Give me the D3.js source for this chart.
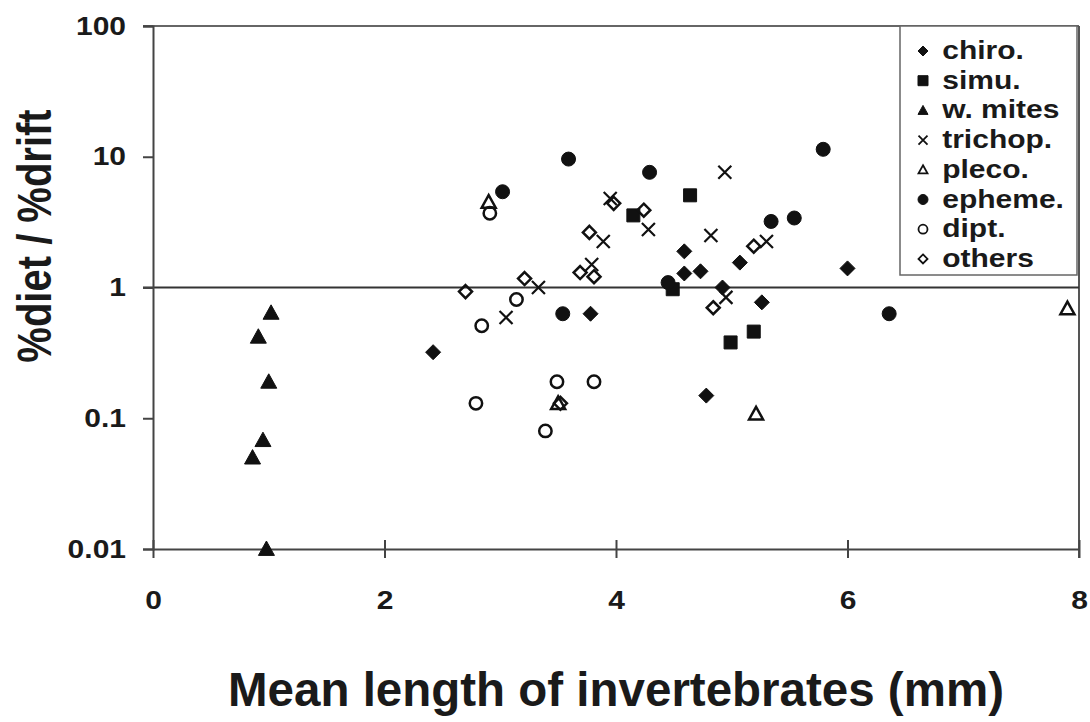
<!DOCTYPE html>
<html>
<head>
<meta charset="utf-8">
<script src="https://cdn.jsdelivr.net/npm/d3@7"></script>
<style>
  body { margin: 0; background: #fff; }
  text { font-family: "Liberation Sans", Arial, sans-serif; font-weight: bold; fill: #1a1a1a; }
</style>
</head>
<body>
<svg id="chart" width="1090" height="722"></svg>
<script>
// values: [mean length (mm), %diet/%drift]
const chiro = [[2.42, 0.32], [3.78, 0.63], [4.59, 1.89], [4.59, 1.28], [4.73, 1.33], [5.07, 1.55],
  [6.0, 1.4], [4.92, 1.0], [5.26, 0.77], [4.78, 0.149]]
const simu = [[4.15, 3.56], [4.64, 5.07], [4.49, 0.97], [5.19, 0.46], [4.99, 0.38]]
const wMites = [[1.02, 0.64], [0.91, 0.42], [1.0, 0.19], [0.95, 0.068], [0.86, 0.05], [0.98, 0.01]]
const trichop = [[3.95, 4.8], [4.28, 2.78], [3.89, 2.25], [4.82, 2.5], [4.94, 7.6], [5.3, 2.25],
  [3.79, 1.5], [3.33, 1.0], [3.05, 0.59], [4.95, 0.84]]
const pleco = [[2.9, 4.5], [3.5, 0.13], [5.21, 0.108], [7.9, 0.69]]
const epheme = [[3.02, 5.4], [3.59, 9.6], [4.29, 7.6], [5.79, 11.4], [5.34, 3.2], [5.54, 3.4],
  [4.45, 1.09], [3.54, 0.63], [6.36, 0.63]]
const dipt = [[2.91, 3.7], [2.79, 0.13], [2.84, 0.51], [3.14, 0.81], [3.49, 0.19], [3.81, 0.19], [3.39, 0.08]]
const others = [[3.98, 4.4], [4.24, 3.9], [3.77, 2.64], [5.19, 2.07], [3.69, 1.3], [3.81, 1.21],
  [3.21, 1.17], [2.7, 0.93], [4.84, 0.7], [3.52, 0.13]]

const xTicks = [0, 2, 4, 6, 8]
const yTicks = [0.01, 0.1, 1, 10, 100]

const series = [
  { name: "chiro.", data: chiro, shape: "diamond", filled: true },
  { name: "simu.", data: simu, shape: "square", filled: true },
  { name: "w. mites", data: wMites, shape: "triangle", filled: true },
  { name: "trichop.", data: trichop, shape: "cross", filled: false },
  { name: "pleco.", data: pleco, shape: "triangle", filled: false },
  { name: "epheme.", data: epheme, shape: "circle", filled: true },
  { name: "dipt.", data: dipt, shape: "circle", filled: false },
  { name: "others", data: others, shape: "diamond", filled: false }
]

const ink = "#111"
const lineCol = "#444"

const svg = d3.select("#chart")
const x = d3.scaleLinear().domain([0, 8]).range([153, 1079])
const y = d3.scaleLog().domain([0.01, 100]).range([549, 26])

// marker outlines, s = half size
const shapePath = (shape, s) => {
  if (shape === "diamond") return `M0,${-s}L${s},0L0,${s}L${-s},0Z`
  if (shape === "square") return `M${-s},${-s}H${s}V${s}H${-s}Z`
  if (shape === "triangle") return `M0,${-s}L${s},${s * 0.8}L${-s},${s * 0.8}Z`
  if (shape === "cross") return `M${-s},${-s}L${s},${s}M${-s},${s}L${s},${-s}`
  return d3.arc()({ innerRadius: 0, outerRadius: s, startAngle: 0, endAngle: 2 * Math.PI })
}
const plotSize = { diamond: 7.5, square: 6.5, triangle: 8, cross: 6.5, circle: 7 }
const openSize = { diamond: 6.5, triangle: 7, circle: 6.2, cross: 6.5 }

// frame: top and right border, value-1 line
svg.append("line").attr("x1", 143).attr("x2", 1079).attr("y1", y(100)).attr("y2", y(100))
  .attr("stroke", "#666").attr("stroke-width", 2)
svg.append("line").attr("x1", 1079).attr("x2", 1079).attr("y1", y(100)).attr("y2", 558)
  .attr("stroke", "#555").attr("stroke-width", 2)
svg.append("line").attr("x1", 143).attr("x2", 1079).attr("y1", y(1)).attr("y2", y(1))
  .attr("stroke", "#333").attr("stroke-width", 2)

// axes (labels are drawn a bit wide, like the original)
const yAxis = svg.append("g").attr("transform", "translate(153,0)")
  .call(d3.axisLeft(y).tickValues(yTicks).tickFormat(d3.format("~g")).tickSize(10))
yAxis.selectAll("path, line").attr("stroke", lineCol).attr("stroke-width", 2)
yAxis.selectAll("text").attr("x", -22.5).attr("transform", "scale(1.2,1)")
  .style("font-size", "25px").attr("fill", "#1a1a1a")

const xAxis = svg.append("g").attr("transform", "translate(0,549)")
  .call(d3.axisBottom(x).tickValues(xTicks).tickSize(9).tickSizeOuter(0))
xAxis.selectAll("path").attr("stroke", lineCol).attr("stroke-width", 2)
xAxis.selectAll(".tick line").attr("y1", -9).attr("stroke", lineCol).attr("stroke-width", 2)
xAxis.selectAll("text").attr("y", 42).attr("transform", "scale(1.2,1)")
  .style("font-size", "25px").attr("fill", "#1a1a1a")

// points
series.forEach(sr => {
  const s = sr.filled ? plotSize[sr.shape] : openSize[sr.shape]
  svg.append("g").selectAll("path").data(sr.data).enter().append("path")
    .attr("transform", d => `translate(${x(d[0])},${y(d[1])})`)
    .attr("d", shapePath(sr.shape, s))
    .attr("fill", sr.filled ? ink : "none")
    .attr("stroke", ink)
    .attr("stroke-width", sr.shape === "cross" ? 2.2 : sr.filled ? 1 : 2.5)
})

// legend
const legend = svg.append("g")
legend.append("rect").attr("x", 900).attr("y", 26).attr("width", 177).attr("height", 249)
  .attr("fill", "#fff").attr("stroke", "#666").attr("stroke-width", 1.5)
const item = legend.selectAll("g.item").data(series).enter().append("g")
  .attr("class", "item")
  .attr("transform", (d, i) => `translate(923,${59 + i * 29.7})`)
item.append("path")
  .attr("transform", "translate(0,-8)")
  .attr("d", d => shapePath(d.shape, d.filled ? 5 : 4.5))
  .attr("fill", d => (d.filled ? ink : "none"))
  .attr("stroke", ink)
  .attr("stroke-width", d => (d.filled ? 1 : 1.8))
item.append("text").attr("x", 16).attr("transform", "scale(1.2,1)")
  .style("font-size", "25px").text(d => d.name)

// titles
svg.append("text").attr("transform", "translate(51,236) scale(1.2,1) rotate(-90)")
  .attr("text-anchor", "middle").style("font-size", "40px").text("%diet / %drift")
svg.append("text").attr("x", 616).attr("y", 706).attr("text-anchor", "middle")
  .style("font-size", "47.5px").text("Mean length of invertebrates (mm)")
</script>
</body>
</html>
